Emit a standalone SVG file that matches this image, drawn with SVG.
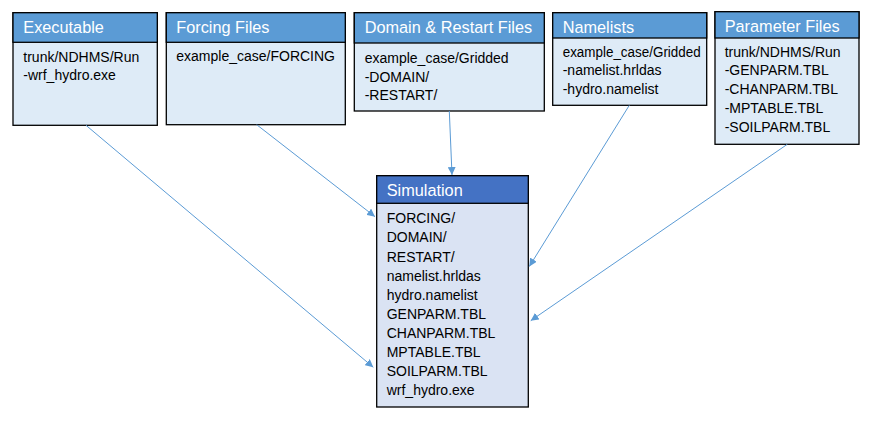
<svg xmlns="http://www.w3.org/2000/svg" width="878" height="423" viewBox="0 0 878 423">
<style>
.hdr{fill:#5B9BD5;stroke:#000;stroke-width:1.3}
.bdy{fill:#DEEBF7;stroke:#000;stroke-width:1.3}
.shdr{fill:#4472C4;stroke:#000;stroke-width:1.3}
.sbdy{fill:#DAE3F3;stroke:#000;stroke-width:1.3}
.t{font-family:"Liberation Sans",Arial,sans-serif;font-size:16.3px;fill:#fff}
.b{font-family:"Liberation Sans",Arial,sans-serif;font-size:14px;fill:#000}
.c{stroke:#5B9BD5;stroke-width:1;fill:none;marker-end:url(#ah)}
</style>
<defs>
<marker id="ah" viewBox="0 0 10 10" refX="10" refY="5" markerWidth="8" markerHeight="8" markerUnits="userSpaceOnUse" orient="auto">
<path d="M0,0 L10,5 L0,10 Z" fill="#5B9BD5"/>
</marker>
</defs>
<rect width="878" height="423" fill="#fff"/>
<g id="executable">
<rect class="bdy" x="13" y="12.7" width="144.3" height="112.6"/>
<rect class="hdr" x="13" y="12.7" width="144.3" height="29.6"/>
<text class="t" x="23.3" y="33.3">Executable</text>
<text class="b" x="23.3" y="61.7">trunk/NDHMS/Run</text>
<text class="b" x="23.3" y="80.2">-wrf_hydro.exe</text>
</g>
<g id="forcing">
<rect class="bdy" x="166.3" y="12.7" width="179" height="112"/>
<rect class="hdr" x="166.3" y="12.7" width="179" height="29.6"/>
<text class="t" x="176.3" y="33.3">Forcing Files</text>
<text class="b" x="176.3" y="61.3">example_case/FORCING</text>
</g>
<g id="domain">
<rect class="bdy" x="354.3" y="12.7" width="190" height="98.3"/>
<rect class="hdr" x="354.3" y="12.7" width="190" height="30.3"/>
<text class="t" x="364.7" y="33.3">Domain &amp; Restart Files</text>
<text class="b" x="364.7" y="63.3">example_case/Gridded</text>
<text class="b" x="364.7" y="81.7">-DOMAIN/</text>
<text class="b" x="364.7" y="100">-RESTART/</text>
</g>
<g id="namelists">
<rect class="bdy" x="552.7" y="12.7" width="154" height="92.6"/>
<rect class="hdr" x="552.7" y="12.7" width="154" height="25.3"/>
<text class="t" x="562.7" y="33">Namelists</text>
<text class="b" x="562.7" y="56.7" textLength="138" lengthAdjust="spacingAndGlyphs">example_case/Gridded</text>
<text class="b" x="562.7" y="75.3">-namelist.hrldas</text>
<text class="b" x="562.7" y="94">-hydro.namelist</text>
</g>
<g id="parameters">
<rect class="bdy" x="715" y="11.7" width="144" height="132.6"/>
<rect class="hdr" x="715" y="11.7" width="144" height="26.3"/>
<text class="t" x="724.7" y="32.3">Parameter Files</text>
<text class="b" x="724.7" y="56.7">trunk/NDHMS/Run</text>
<text class="b" x="724.7" y="75.3">-GENPARM.TBL</text>
<text class="b" x="724.7" y="94">-CHANPARM.TBL</text>
<text class="b" x="724.7" y="113.3">-MPTABLE.TBL</text>
<text class="b" x="724.7" y="132.3">-SOILPARM.TBL</text>
</g>
<g id="simulation">
<rect class="sbdy" x="376.7" y="175.7" width="151.6" height="231.3"/>
<rect class="shdr" x="376.7" y="175.7" width="151.6" height="27.6"/>
<text class="t" x="386.7" y="196">Simulation</text>
<text class="b" x="386.7" y="223.3">FORCING/</text>
<text class="b" x="386.7" y="242.4">DOMAIN/</text>
<text class="b" x="386.7" y="261.6">RESTART/</text>
<text class="b" x="386.7" y="280.7">namelist.hrldas</text>
<text class="b" x="386.7" y="299.8">hydro.namelist</text>
<text class="b" x="386.7" y="318.9">GENPARM.TBL</text>
<text class="b" x="386.7" y="338.1">CHANPARM.TBL</text>
<text class="b" x="386.7" y="357.2">MPTABLE.TBL</text>
<text class="b" x="386.7" y="376.3">SOILPARM.TBL</text>
<text class="b" x="386.7" y="395.4">wrf_hydro.exe</text>
</g>
<g id="connectors">
<line class="c" x1="86" y1="125.3" x2="373.3" y2="367.3"/>
<line class="c" x1="256.7" y1="124.7" x2="375" y2="216.7"/>
<line class="c" x1="449.3" y1="111" x2="452" y2="175"/>
<line class="c" x1="629.3" y1="105.3" x2="529.3" y2="266.5"/>
<line class="c" x1="787.3" y1="144.3" x2="530.7" y2="320.7"/>
</g>
</svg>
